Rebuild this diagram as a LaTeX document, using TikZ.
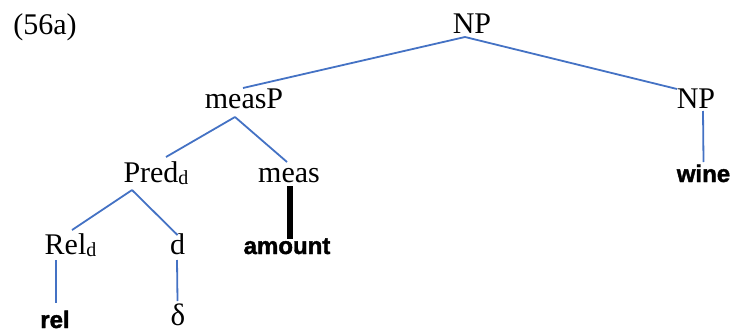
\documentclass[tikz,border=0pt]{standalone}
\usepackage{fontspec}
\setmainfont{Liberation Serif}
\newfontfamily\lsans{Liberation Sans}[BoldFeatures={FakeBold=1.6}]
\definecolor{treeblue}{RGB}{68,114,196}
\newcommand\sbd{\raisebox{-2pt}{\fontsize{20}{20}\selectfont d}}
\tikzset{
  cat/.style={inner sep=0pt, anchor=base, font=\fontsize{30}{36}\selectfont},
  word/.style={inner sep=0pt, anchor=base, font=\lsans\bfseries\fontsize{24}{28}\selectfont},
  branch/.style={draw=treeblue, line width=1.8pt},
  thickbranch/.style={draw=black, line width=6pt},
}
\begin{document}
\begin{tikzpicture}[x=1pt,y=-1pt]
\useasboundingbox (0,0) rectangle (730,332);
\node[cat] (ex) at (45,34) {(56a)};
\node[cat] (NPt) at (472,33) {NP};
\node[cat] (measP) at (244,108) {measP};
\node[cat] (NPr) at (696,108) {NP};
\node[word] (wine) at (703.5,182) {wine};
\node[cat] (Pred) at (156,182) {Pred\sbd};
\node[cat] (meas) at (289,182) {meas};
\node[word] (amount) at (287,254) {amount};
\node[cat] (Rel) at (70.5,254) {Rel\sbd};
\node[cat] (d) at (177.5,254) {d};
\node[word] (rel) at (55,328) {rel};
\node[cat, font=\fontsize{31}{36}\selectfont] (delta) at (178,325) {δ};

\draw[branch] ([shift={(-7,4)}]NPt.base) -- ([shift={(-1,-20)}]measP.base);
\draw[branch] ([shift={(-7,4)}]NPt.base) -- ([shift={(-19,-19)}]NPr.base);
\draw[branch] ([shift={(7,3)}]NPr.base) -- ([shift={(0,-20)}]wine.base);
\draw[branch] ([shift={(-9,9)}]measP.base) -- ([shift={(10,-25)}]Pred.base);
\draw[branch] ([shift={(-9,9)}]measP.base) -- ([shift={(-2,-20)}]meas.base);
\draw[thickbranch] ([shift={(1,4)}]meas.base) -- ([shift={(3,-15)}]amount.base);
\draw[branch] ([shift={(-24,8)}]Pred.base) -- ([shift={(1.5,-24)}]Rel.base);
\draw[branch] ([shift={(-24,8)}]Pred.base) -- ([shift={(0,-19)}]d.base);
\draw[branch] ([shift={(-14.5,6)}]Rel.base) -- ([shift={(1,-25)}]rel.base);
\draw[branch] ([shift={(-0.5,6)}]d.base) -- ([shift={(-0.5,-24)}]delta.base);
\end{tikzpicture}
\end{document}
